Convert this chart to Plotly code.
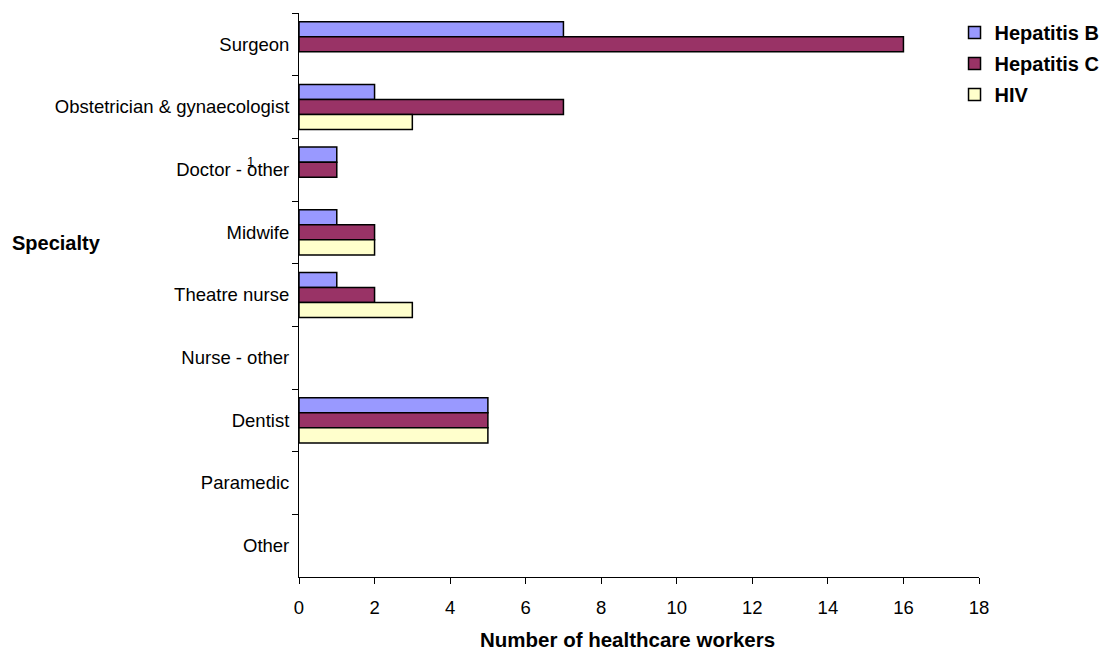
import plotly.graph_objects as go

categories = ["Surgeon", "Obstetrician & gynaecologist", "Doctor - other", "Midwife",
              "Theatre nurse", "Nurse - other", "Dentist", "Paramedic", "Other"]
hep_b = [7, 2, 1, 1, 1, 0, 5, 0, 0]
hep_c = [16, 7, 1, 2, 2, 0, 5, 0, 0]
hiv = [0, 3, 0, 2, 3, 0, 5, 0, 0]
x_ticks = [0, 2, 4, 6, 8, 10, 12, 14, 16, 18]

series = [("Hepatitis B", hep_b, "#9999FF"),
          ("Hepatitis C", hep_c, "#993366"),
          ("HIV", hiv, "#FFFFCC")]

fig = go.Figure()
for name, vals, col in series:
    fig.add_trace(go.Bar(
        y=categories, x=[v if v else None for v in vals], name=name, orientation="h",
        legendgroup=name,
        marker=dict(color=col, line=dict(color="black", width=1.5)),
    ))

font_family = "Liberation Sans, Arial, sans-serif"
fig.update_layout(
    width=1106, height=650,
    margin=dict(l=299, r=127, t=13, b=73, autoexpand=False),
    paper_bgcolor="white", plot_bgcolor="white",
    barmode="group", bargap=0.28, bargroupgap=0,
    font=dict(family=font_family, size=18.5, color="black"),
    showlegend=True,
    legend=dict(x=0.964, y=1.0, xanchor="left", yanchor="top",
                font=dict(family=font_family, size=20, color="black", weight="bold"),
                traceorder="grouped", itemwidth=30, tracegroupgap=2,
                bgcolor="rgba(0,0,0,0)"),
    xaxis=dict(range=[0, 18], tickvals=x_ticks, showgrid=False, zeroline=False,
               showline=True, linecolor="black", linewidth=1,
               ticks="outside", ticklen=6, tickcolor="black",
               ticklabelstandoff=8,
               tickfont=dict(size=18.5)),
    yaxis=dict(categoryorder="array", categoryarray=categories,
               autorange="reversed", showgrid=False, zeroline=False,
               showline=True, linecolor="black", linewidth=1,
               ticks="outside", ticklen=6, tickcolor="black", tickson="boundaries",
               ticklabelstandoff=5,
               tickfont=dict(size=18.5)),
    annotations=[
        dict(text="<b>Number of healthcare workers</b>", xref="paper", yref="paper",
             x=0.5, xshift=-12, y=0, yshift=-62, yanchor="middle", showarrow=False,
             font=dict(size=20.5)),
        dict(text="<b>Specialty</b>", xref="paper", yref="paper",
             x=0, xshift=-289, y=0.592, xanchor="left", yanchor="middle",
             showarrow=False, font=dict(size=20)),
        dict(text="1", xref="paper", yref="y", x=0, xshift=-54, y="Doctor - other",
             yshift=8, showarrow=False, font=dict(size=13)),
    ],
)

fig.write_html("out.html")
